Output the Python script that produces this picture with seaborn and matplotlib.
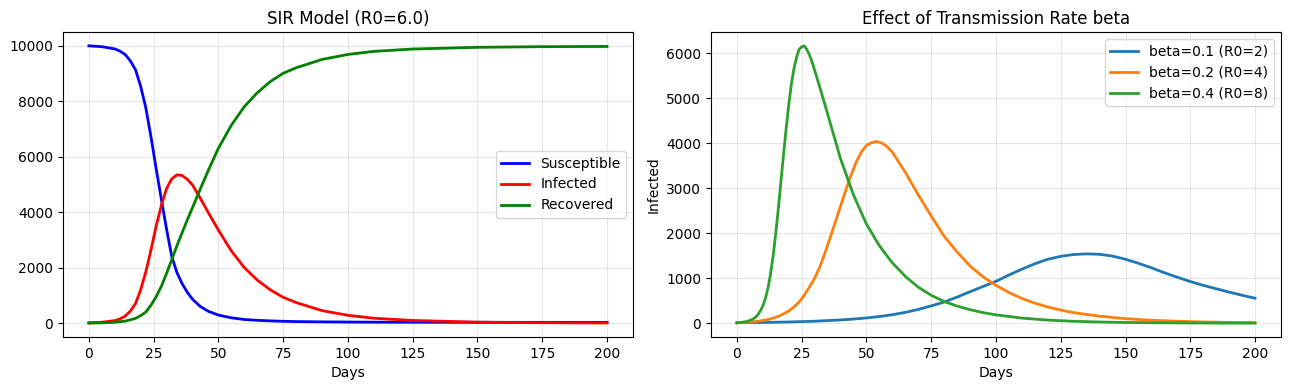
import numpy as np
import pandas as pd
import seaborn as sns
import matplotlib
matplotlib.use("Agg")
import matplotlib.pyplot as plt

# left panel: SIR curves (population 10000)
days_sir = [0, 5, 10, 12, 14, 16, 18, 20, 22, 24, 26, 28, 30, 32, 34, 36, 38, 40, 43, 46,
            50, 55, 60, 65, 70, 75, 80, 90, 100, 110, 125, 150, 175, 200]
susceptible = [9990, 9960, 9880, 9800, 9680, 9450, 9130, 8530, 7750, 6700, 5550, 4450,
               3380, 2400, 1820, 1420, 1110, 860, 600, 430, 290, 190, 130, 100, 80, 65,
               55, 45, 38, 34, 30, 28, 27, 27]
infected = [10, 30, 90, 150, 250, 430, 700, 1200, 1850, 2650, 3500, 4250, 4850, 5200, 5340,
            5320, 5180, 4980, 4500, 4000, 3350, 2600, 2000, 1550, 1200, 930, 740, 450, 280,
            175, 95, 35, 13, 5]
recovered = [0, 10, 30, 50, 70, 120, 170, 270, 400, 650, 950, 1330, 1790, 2290, 2790, 3260,
             3720, 4160, 4830, 5480, 6300, 7130, 7800, 8300, 8700, 9000, 9200, 9500, 9680,
             9791, 9875, 9937, 9960, 9968]

# right panel: infected for three transmission rates
days_b01 = [0, 10, 20, 30, 40, 45, 50, 55, 60, 65, 70, 75, 80, 85, 90, 95, 100, 105, 110,
            115, 120, 125, 130, 135, 140, 145, 150, 155, 160, 165, 170, 175, 180, 185, 190,
            195, 200]
inf_b01 = [10, 16, 27, 44, 72, 92, 117, 148, 188, 240, 305, 385, 470, 580, 700, 815, 930,
           1070, 1200, 1320, 1420, 1485, 1525, 1540, 1530, 1490, 1420, 1330, 1230, 1120,
           1020, 925, 840, 765, 690, 620, 555]

days_b02 = [0, 4, 8, 12, 16, 20, 22, 24, 26, 28, 30, 32, 34, 36, 38, 40, 42, 44, 46, 48, 50,
            52, 54, 56, 58, 60, 65, 70, 75, 80, 85, 90, 95, 100, 105, 110, 115, 120, 125,
            130, 140, 150, 160, 170, 180, 190, 200]
inf_b02 = [10, 21, 42, 80, 150, 270, 360, 470, 620, 800, 1000, 1250, 1560, 1900, 2250, 2600,
           2950, 3280, 3570, 3800, 3950, 4010, 4035, 4000, 3920, 3800, 3350, 2850, 2380,
           1930, 1580, 1270, 1030, 840, 680, 550, 445, 360, 290, 235, 155, 100, 65, 43, 28,
           18, 12]

days_b04 = [0, 2, 4, 6, 7, 8, 9, 10, 11, 12, 13, 14, 15, 16, 17, 18, 19, 20, 21, 22, 23, 24,
            25, 26, 27, 28, 29, 30, 32, 35, 40, 45, 50, 55, 60, 65, 70, 75, 80, 85, 90, 95,
            100, 110, 120, 130, 140, 150, 160, 170, 180, 190, 200]
inf_b04 = [10, 20, 40, 85, 125, 180, 270, 380, 550, 780, 1100, 1500, 2000, 2550, 3150, 3750,
           4320, 4850, 5300, 5650, 5900, 6080, 6140, 6160, 6080, 5960, 5800, 5620, 5240,
           4650, 3650, 2850, 2200, 1720, 1340, 1040, 800, 620, 480, 380, 300, 235, 185,
           113, 69, 42, 26, 16, 10, 6, 4, 2, 2]

beta_labels = ["beta=0.1 (R0=2)", "beta=0.2 (R0=4)", "beta=0.4 (R0=8)"]

fig, axes = plt.subplots(1, 2, figsize=(12.9, 3.9), dpi=100)
fig.subplots_adjust(left=0.0488, right=0.993, bottom=0.136, top=0.918, wspace=0.137)

ax = axes[0]
sns.lineplot(x=days_sir, y=susceptible, ax=ax, color="b", linewidth=2, label="Susceptible")
sns.lineplot(x=days_sir, y=infected, ax=ax, color="r", linewidth=2, label="Infected")
sns.lineplot(x=days_sir, y=recovered, ax=ax, color="g", linewidth=2, label="Recovered")
ax.set_title("SIR Model (R0=6.0)")
ax.set_xlabel("Days")
ax.legend(loc="center right")
ax.grid(True, alpha=0.3)

ax = axes[1]
palette = sns.color_palette("tab10")
series = [(days_b01, inf_b01), (days_b02, inf_b02), (days_b04, inf_b04)]
for i, (d, v) in enumerate(series):
    sns.lineplot(x=d, y=v, ax=ax, color=palette[i], linewidth=2, label=beta_labels[i])
ax.set_title("Effect of Transmission Rate beta")
ax.set_xlabel("Days")
ax.set_ylabel("Infected")
ax.legend(loc="upper right")
ax.grid(True, alpha=0.3)

plt.savefig("out.png")
